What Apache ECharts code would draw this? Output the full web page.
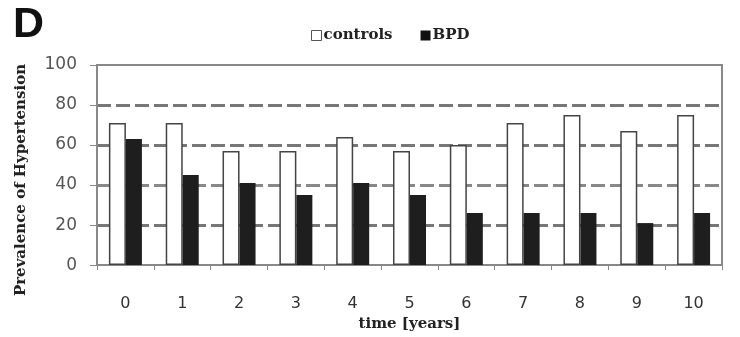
<!DOCTYPE html>
<html><head><meta charset="utf-8">
<script src="https://cdn.jsdelivr.net/npm/echarts@6/dist/echarts.min.js"></script>
<style>html,body{margin:0;padding:0;background:#fff}#c{width:740px;height:337px}</style>
</head><body><div id="c"></div>
<script>
const categories = ['0','1','2','3','4','5','6','7','8','9','10'];
const controls = [71, 71, 57, 57, 64, 57, 60, 71, 75, 67, 75];
const bpd = [63, 45, 41, 35, 41, 35, 26, 26, 26, 21, 26];
const yTicks = [0, 20, 40, 60, 80, 100];

const chart = echarts.init(document.getElementById('c'));
const serif = '"DejaVu Serif", "Liberation Serif", serif';
const sans = '"DejaVu Sans", "Liberation Sans", sans-serif';
chart.setOption({
  animation: false,
  backgroundColor: '#fff',
  graphic: [
    { type: 'text', left: 13, top: 4,
      style: { text: 'D', font: 'bold 43px "Liberation Sans Narrow", "Liberation Sans", Arial, sans-serif', fill: '#111' } },
    { type: 'text', x: 21, y: 180, rotation: Math.PI / 2,
      style: { text: 'Prevalence of Hypertension', font: 'bold 15px ' + serif, fill: '#222',
        align: 'center', verticalAlign: 'middle' } }
  ],
  legend: {
    top: 23, left: 306, itemGap: 28, itemWidth: 10, itemHeight: 10,
    icon: 'rect',
    textStyle: { fontFamily: serif, fontWeight: 'bold', fontSize: 15, color: '#222', padding: [0, 0, 0, -3] },
    data: [
      { name: 'controls', itemStyle: { color: '#fff', borderColor: '#555', borderWidth: 1 } },
      { name: 'BPD', itemStyle: { color: '#111' } }
    ]
  },
  grid: { left: 97, right: 18, top: 65, bottom: 66, show: true, borderColor: '#888', borderWidth: 2, backgroundColor: 'transparent' },
  xAxis: {
    type: 'category', data: categories, boundaryGap: true,
    name: 'time [years]', nameLocation: 'middle', nameGap: 50,
    nameTextStyle: { fontFamily: serif, fontWeight: 'bold', fontSize: 15, color: '#222' },
    axisLine: { lineStyle: { color: '#888', width: 2 } },
    axisTick: { show: true, length: 5, inside: false, lineStyle: { color: '#888' } },
    axisLabel: { margin: 31, fontFamily: sans, fontSize: 16, color: '#333' }
  },
  yAxis: {
    type: 'value', min: 0, max: 100, interval: 20,
    axisLine: { show: true, lineStyle: { color: '#888', width: 2 } },
    axisTick: { show: true, length: 7, lineStyle: { color: '#888' } },
    axisLabel: { margin: 20, fontFamily: sans, fontSize: 17, color: '#555',
      formatter: v => yTicks.includes(v) ? String(v) : '' },
    splitLine: { show: true, lineStyle: { color: ['rgba(0,0,0,0)', '#777', '#888', '#777', '#777', 'rgba(0,0,0,0)'], width: 3, type: [14, 5] } }
  },
  series: [
    { name: 'controls', type: 'bar', data: controls, barWidth: 17, barGap: '0%',
      itemStyle: { color: '#fff', borderColor: '#444', borderWidth: 1.5 } },
    { name: 'BPD', type: 'bar', data: bpd, barWidth: 16, barGap: '0%',
      itemStyle: { color: '#1e1e1e' } }
  ]
});
</script></body></html>
